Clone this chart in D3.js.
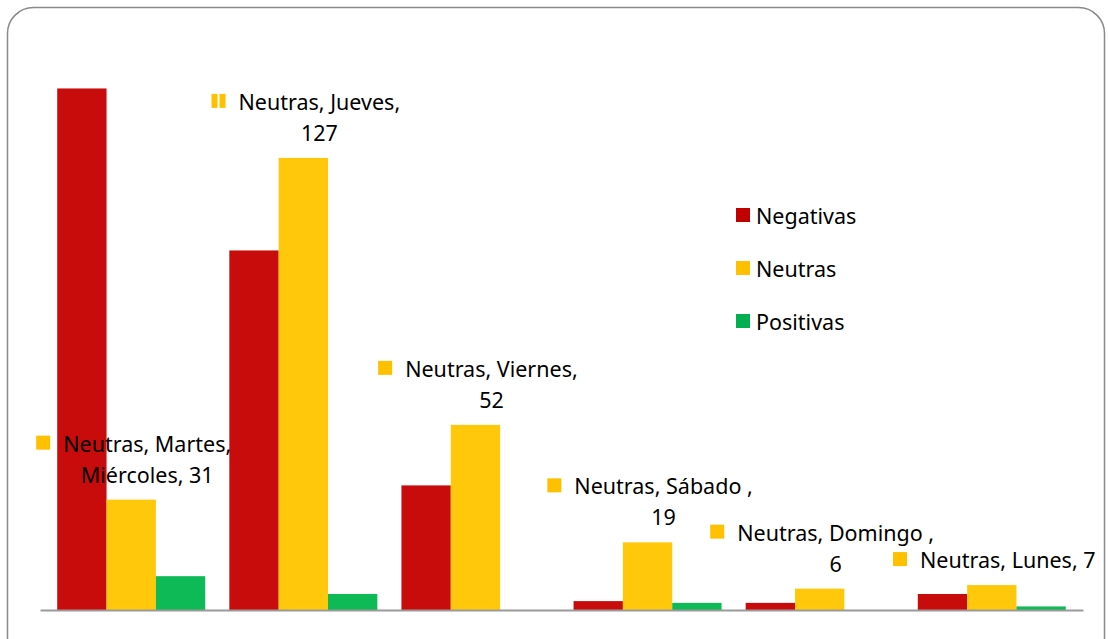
<!DOCTYPE html>
<html><head><meta charset="utf-8">
<script src="https://cdn.jsdelivr.net/npm/d3@7"></script>
<style>body{margin:0;background:#fff;}svg{display:block;font-family:"Noto Sans",sans-serif;}</style>
</head><body><svg id="c" width="1108" height="639"></svg>
<script>
const categories = ["Martes, Miércoles", "Jueves", "Viernes", "Sábado ", "Domingo ", "Lunes"];
const seriesNames = ["Negativas", "Neutras", "Positivas"];
const negativas = [146.5, 101, 35, 2.5, 2, 4.5];
const neutras = [31, 127, 52, 19, 6, 7];
const positivas = [9.5, 4.5, 0, 2, 0, 1];
const labelLines = [["Neutras, Martes,", "Miércoles, 31"], ["Neutras, Jueves,", "127"], ["Neutras, Viernes,", "52"], ["Neutras, Sábado ,", "19"], ["Neutras, Domingo ,", "6"], ["Neutras, Lunes, 7"]];

const colors = ["#C80C0C", "#FFC80A", "#0DBA55"];
const legendColors = ["#C00000", "#FFC000", "#00B050"];
const svg = d3.select("#c");
const fontSize = 21.5;

svg.append("rect").attr("x", 7.5).attr("y", 7.5).attr("width", 1097).attr("height", 660)
  .attr("rx", 26).attr("ry", 26).attr("fill", "#fff").attr("stroke", "#8a8a8a").attr("stroke-width", 1.5);

const x = d3.scaleBand().domain(categories).range([40, 1083]).paddingInner(0.14).paddingOuter(0.1);
const xs = d3.scaleBand().domain(seriesNames).range([0, x.bandwidth()]);
const y = d3.scaleLinear().domain([0, 150]).range([610, 76]);
const series = [negativas, neutras, positivas];

const g = svg.append("g");
categories.forEach((c, i) => {
  seriesNames.forEach((s, j) => {
    const v = series[j][i];
    if (v <= 0) return;
    g.append("rect").attr("x", x(c) + xs(s)).attr("width", xs.bandwidth())
      .attr("y", y(v)).attr("height", y(0) - y(v)).attr("fill", colors[j]);
  });
});

// axis baseline
const axis = svg.append("g").attr("transform", "translate(0,610)")
  .call(d3.axisBottom(x).tickSize(0).tickFormat(""));
axis.select(".domain").attr("stroke", "#9a9a9a").attr("stroke-width", 2);

// data labels for Neutras
categories.forEach((c, i) => {
  const cx = x(c) + xs("Neutras") + xs.bandwidth() / 2 - 2;
  const top = y(neutras[i]);
  const lines = labelLines[i];
  const lg = svg.append("g");
  const tcx = cx + 18;
  const n = lines.length;
  let firstStart = null;
  lines.forEach((t, k) => {
    const baseY = top - 17 - (n - 1 - k) * 31;
    const te = lg.append("text").attr("x", tcx).attr("y", baseY).attr("text-anchor", "middle")
      .attr("font-size", fontSize).attr("fill", "#000").text(t);
    if (k === 0) {
      const w = te.node().getComputedTextLength();
      firstStart = { x: tcx - w / 2, y: baseY };
    }
  });
  const mx = firstStart.x - 27, my = firstStart.y - 16;
  if (i === 1) {
    lg.append("rect").attr("x", mx).attr("y", my).attr("width", 6).attr("height", 14).attr("fill", legendColors[1]);
    lg.append("rect").attr("x", mx + 8).attr("y", my).attr("width", 6).attr("height", 14).attr("fill", legendColors[1]);
  } else {
    lg.append("rect").attr("x", mx).attr("y", my).attr("width", 14).attr("height", 14).attr("fill", legendColors[1]);
  }
});

// legend
const leg = svg.append("g").attr("transform", "translate(736,208)");
seriesNames.forEach((s, j) => {
  const row = leg.append("g").attr("transform", `translate(0,${j * 53})`);
  row.append("rect").attr("width", 14).attr("height", 14).attr("fill", legendColors[j]);
  row.append("text").attr("x", 20).attr("y", 16).attr("font-size", fontSize).attr("fill", "#000").text(s);
});
</script></body></html>
